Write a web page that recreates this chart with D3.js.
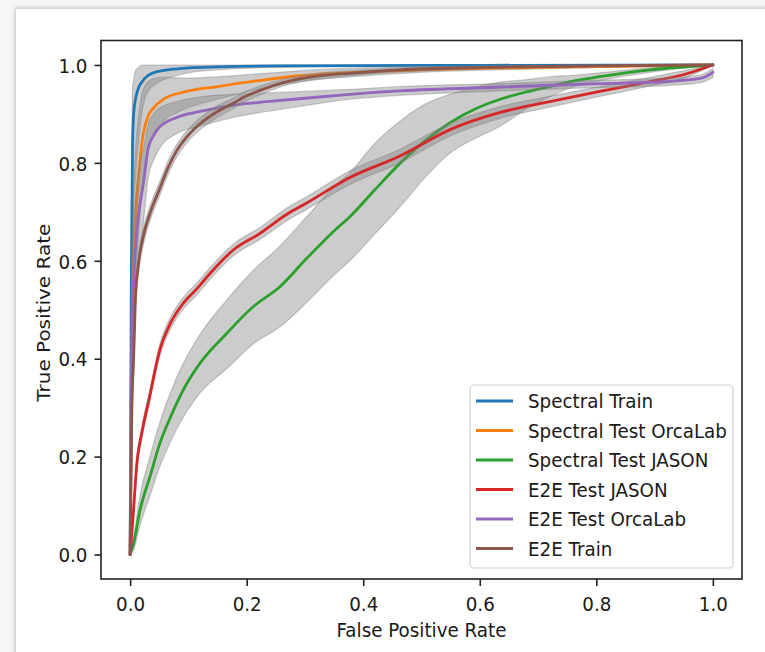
<!DOCTYPE html>
<html>
<head>
<meta charset="utf-8">
<script src="https://cdn.jsdelivr.net/npm/d3@7"></script>
<style>
  html, body { margin: 0; padding: 0; background: #f6f6f6; width: 765px; height: 652px; overflow: hidden; }
  #card { position: absolute; left: 16px; top: 9px; width: 760px; height: 660px; background: #fff;
          box-shadow: -1px -1px 4px rgba(0,0,0,0.22); }
  svg { position: absolute; left: 0; top: 0; }
  text { font-family: "DejaVu Sans", sans-serif; fill: #1a1a1a; }
</style>
</head>
<body>
<div id="card"></div>
<svg id="chart" width="765" height="652"></svg>
<script>
// ---- data: each row = [false positive rate, mean TPR, band lower, band upper]
const spectralTrain = [
  [0,0,0,0],[0.002,0.55,0.4,0.7],[0.004,0.82,0.6,0.95],[0.006,0.9,0.7,0.97],
  [0.01,0.935,0.78,0.99],[0.015,0.955,0.85,0.995],[0.02,0.965,0.9,1],
  [0.03,0.978,0.945,1],[0.045,0.986,0.962,1],[0.07,0.991,0.975,1],
  [0.1,0.994,0.984,1],[0.15,0.996,0.99,1],[0.25,0.998,0.995,1],
  [0.5,0.999,0.998,1],[1,1,1,1]
];
const spectralTestOrcaLab = [
  [0,0,0,0],[0.002,0.3,0.12,0.5],[0.005,0.55,0.38,0.72],[0.008,0.65,0.5,0.8],
  [0.01,0.7,0.56,0.84],[0.015,0.78,0.66,0.9],[0.02,0.84,0.74,0.94],
  [0.03,0.893,0.83,0.965],[0.04,0.912,0.86,0.972],[0.06,0.932,0.888,0.975],
  [0.09,0.944,0.908,0.973],[0.15,0.956,0.93,0.976],[0.22,0.968,0.95,0.982],
  [0.29,0.978,0.966,0.988],[0.35,0.983,0.973,0.992],[0.5,0.99,0.985,0.996],
  [0.7,0.995,0.992,0.998],[1,1,1,1]
];
const spectralTestJason = [
  [0,0,0,0],[0.006,0.023,0.01,0.036],[0.017,0.091,0.06,0.12],[0.034,0.159,0.12,0.2],
  [0.051,0.227,0.18,0.27],[0.069,0.28,0.23,0.33],[0.091,0.336,0.28,0.39],
  [0.12,0.391,0.33,0.45],[0.166,0.452,0.38,0.52],[0.211,0.506,0.43,0.58],
  [0.257,0.547,0.465,0.63],[0.303,0.605,0.515,0.69],[0.349,0.66,0.57,0.75],
  [0.377,0.69,0.6,0.78],[0.42,0.745,0.655,0.84],[0.463,0.799,0.71,0.885],
  [0.506,0.845,0.77,0.92],[0.549,0.882,0.82,0.94],[0.592,0.91,0.85,0.955],
  [0.635,0.93,0.875,0.965],[0.68,0.945,0.91,0.97],[0.72,0.956,0.935,0.976],
  [0.76,0.967,0.955,0.979],[0.806,0.976,0.968,0.984],[0.892,0.99,0.985,0.994],
  [1,1,1,1]
];
const e2eTestJason = [
  [0,0,0,0],[0.004,0.06,0.05,0.07],[0.007,0.111,0.1,0.122],[0.011,0.179,0.167,0.191],
  [0.02,0.248,0.236,0.26],[0.033,0.32,0.308,0.332],[0.051,0.418,0.406,0.43],
  [0.069,0.472,0.46,0.484],[0.091,0.513,0.501,0.525],[0.114,0.542,0.53,0.554],
  [0.137,0.574,0.562,0.586],[0.177,0.622,0.61,0.634],[0.223,0.656,0.644,0.668],
  [0.269,0.695,0.682,0.708],[0.303,0.718,0.705,0.731],[0.377,0.77,0.756,0.784],
  [0.463,0.814,0.8,0.828],[0.549,0.868,0.855,0.881],[0.635,0.903,0.891,0.915],
  [0.72,0.925,0.914,0.936],[0.806,0.946,0.936,0.956],[0.892,0.966,0.957,0.975],
  [0.949,0.98,0.972,0.988],[1,1,1,1]
];
const e2eTestOrcaLab = [
  [0,0,0,0],[0.002,0.35,0.2,0.5],[0.004,0.5,0.36,0.62],[0.007,0.58,0.46,0.69],
  [0.01,0.64,0.53,0.74],[0.015,0.7,0.6,0.79],[0.023,0.76,0.68,0.83],
  [0.031,0.83,0.77,0.88],[0.04,0.855,0.805,0.9],[0.048,0.87,0.825,0.91],
  [0.08,0.893,0.86,0.925],[0.12,0.905,0.875,0.935],[0.177,0.918,0.893,0.94],
  [0.234,0.925,0.905,0.943],[0.3,0.932,0.917,0.946],[0.377,0.94,0.93,0.95],
  [0.463,0.947,0.938,0.956],[0.635,0.955,0.947,0.962],[0.806,0.962,0.954,0.969],
  [0.92,0.966,0.958,0.973],[0.98,0.973,0.964,0.98],[1,0.985,0.975,0.993]
];
const e2eTrain = [
  [0,0,0,0],[0.003,0.3,0.28,0.32],[0.006,0.4,0.38,0.42],[0.009,0.52,0.5,0.54],
  [0.014,0.59,0.57,0.61],[0.023,0.652,0.635,0.668],[0.035,0.7,0.685,0.715],
  [0.051,0.748,0.734,0.762],[0.065,0.79,0.776,0.804],[0.08,0.825,0.812,0.838],
  [0.1,0.857,0.845,0.869],[0.12,0.88,0.868,0.892],[0.15,0.905,0.893,0.917],
  [0.177,0.922,0.911,0.933],[0.2,0.937,0.927,0.947],[0.223,0.948,0.939,0.957],
  [0.263,0.964,0.957,0.971],[0.32,0.977,0.971,0.983],[0.377,0.983,0.978,0.988],
  [0.463,0.99,0.986,0.994],[0.6,0.995,0.992,0.998],[0.8,0.998,0.996,1],[1,1,1,1]
];

const seriesNames = ["Spectral Train","Spectral Test OrcaLab","Spectral Test JASON",
                     "E2E Test JASON","E2E Test OrcaLab","E2E Train"];
const seriesData = [spectralTrain, spectralTestOrcaLab, spectralTestJason,
                    e2eTestJason, e2eTestOrcaLab, e2eTrain];
const seriesColors = ["#1f77b4","#ff7f0e","#2ca02c","#d62728","#9467bd","#8c564b"];
const xTicks = [0, 0.2, 0.4, 0.6, 0.8, 1.0];
const yTicks = [0, 0.2, 0.4, 0.6, 0.8, 1.0];
const xLabel = "False Positive Rate";
const yLabel = "True Positive Rate";

// ---- layout
const SX = 0.915;          // horizontal squeeze of the original picture
const pLeft = 101, pRight = 742, pTop = 40.5, pBottom = 579;
const svg = d3.select("#chart");
const x = d3.scaleLinear().domain([-0.05, 1.05]).range([pLeft, pRight]);
const y = d3.scaleLinear().domain([-0.05, 1.05]).range([pBottom, pTop]);

svg.append("defs").append("clipPath").attr("id","plotclip")
  .append("rect").attr("x",pLeft).attr("y",pTop).attr("width",pRight-pLeft).attr("height",pBottom-pTop);

const plot = svg.append("g").attr("clip-path","url(#plotclip)");
const area = d3.area().x(d => x(d[0])).y0(d => y(d[2])).y1(d => y(d[3])).curve(d3.curveMonotoneX);
const line = d3.line().x(d => x(d[0])).y(d => y(d[1])).curve(d3.curveMonotoneX);

seriesData.forEach((data, i) => {
  plot.append("path").attr("d", area(data))
    .attr("fill","#808080").attr("fill-opacity",0.4)
    .attr("stroke","#808080").attr("stroke-opacity",0.4).attr("stroke-width",1.2);
  plot.append("path").attr("d", line(data))
    .attr("fill","none").attr("stroke",seriesColors[i]).attr("stroke-width",2.8)
    .attr("stroke-linejoin","round").attr("stroke-linecap","round");
});

// ---- frame
svg.append("rect").attr("x",pLeft).attr("y",pTop).attr("width",pRight-pLeft).attr("height",pBottom-pTop)
  .attr("fill","none").attr("stroke","#222").attr("stroke-width",1.6);

// ---- axes
const fmt = d3.format(".1f");
const gx = svg.append("g").attr("transform",`translate(0,${pBottom})`)
  .call(d3.axisBottom(x).tickValues(xTicks).tickFormat(fmt).tickSize(7).tickSizeOuter(0));
gx.select(".domain").remove();
gx.selectAll(".tick line").attr("stroke","#222").attr("stroke-width",1.6);
gx.selectAll(".tick text").attr("y",0).attr("x",0).attr("dy","0.71em")
  .attr("transform",`translate(0,18) scale(${SX},1)`)
  .style("font-size","20px").style("font-family","DejaVu Sans").attr("fill","#1a1a1a");

const gy = svg.append("g").attr("transform",`translate(${pLeft},0)`)
  .call(d3.axisLeft(y).tickValues(yTicks).tickFormat(fmt).tickSize(6.5).tickSizeOuter(0));
gy.select(".domain").remove();
gy.selectAll(".tick line").attr("stroke","#222").attr("stroke-width",1.6);
gy.selectAll(".tick text").attr("x",0).attr("y",0).attr("dy","0.36em")
  .attr("transform",`translate(-13.5,0) scale(${SX},1)`)
  .style("font-size","20px").style("font-family","DejaVu Sans").attr("fill","#1a1a1a");

// ---- axis labels
svg.append("text").attr("text-anchor","middle").style("font-size","20px")
  .attr("transform",`translate(${(pLeft+pRight)/2},637) scale(${SX},1)`).text(xLabel);
svg.append("text").attr("text-anchor","middle").style("font-size","20px")
  .attr("transform",`translate(50,${(pTop+pBottom)/2 + 3}) rotate(-90) scale(1,${SX})`).text(yLabel);

// ---- legend
const lg = svg.append("g");
lg.append("rect").attr("x",470).attr("y",385).attr("width",263).attr("height",183)
  .attr("rx",4).attr("fill","#fff").attr("fill-opacity",0.8)
  .attr("stroke","#d0d0d0").attr("stroke-width",1.2);
seriesNames.forEach((name, i) => {
  const cy = 401 + i * 29.5;
  lg.append("line").attr("x1",476).attr("x2",513).attr("y1",cy).attr("y2",cy)
    .attr("stroke",seriesColors[i]).attr("stroke-width",2.8);
  lg.append("text").style("font-size","20px")
    .attr("transform",`translate(528,${cy + 7}) scale(${SX},1)`).text(name);
});
</script>
</body>
</html>
